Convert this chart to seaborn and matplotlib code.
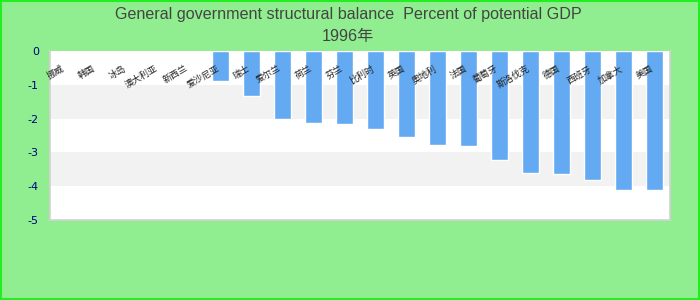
import numpy as np
import pandas as pd
import matplotlib
matplotlib.use("Agg")
import matplotlib.pyplot as plt
from matplotlib.transforms import ScaledTranslation
from matplotlib.patches import Rectangle
import seaborn as sns

# ---- data ----
countries = ["挪威", "韩国", "冰岛", "澳大利亚", "新西兰",
             "爱沙尼亚", "瑞士", "爱尔兰", "荷兰", "芬兰",
             "比利时", "英国", "奥地利", "法国", "葡萄牙",
             "斯洛伐克", "德国", "西班牙", "加拿大", "美国"]
values = [np.nan, np.nan, np.nan, np.nan, np.nan,
          -0.9, -1.32, -2.01, -2.13, -2.16,
          -2.31, -2.54, -2.79, -2.81, -3.23,
          -3.61, -3.64, -3.83, -4.1, -4.1]
yticks = [0, -1, -2, -3, -4, -5]
ytick_labels = ["0", "-1", "-2", "-3", "-4", "-5"]
title_line1 = "General government structural balance  Percent of potential GDP"
title_line2 = "1996年"

df = pd.DataFrame({"country": countries, "value": values})

sns.set_style("white")
plt.rcParams["font.family"] = ["Liberation Sans", "Noto Sans CJK SC", "DejaVu Sans"]

W, H = 700, 300
fig = plt.figure(figsize=(W / 100, H / 100), dpi=100)
fig.patch.set_facecolor("#90ee90")
fig.patches.append(Rectangle((0.001, 0.002), 0.997, 0.995, transform=fig.transFigure,
                             fill=False, edgecolor="#22ee22", linewidth=1.5))

left, right, top, bottom = 50, 670, 51, 220
ax = fig.add_axes([left / W, 1 - bottom / H, (right - left) / W, (bottom - top) / H])
ax.set_facecolor("white")

# alternating bands
ax.axhspan(-2, -1, color="#f2f2f2", zorder=0, lw=0)
ax.axhspan(-4, -3, color="#f2f2f2", zorder=0, lw=0)

sns.barplot(data=df, x="country", y="value", order=countries, color="#63aaf2",
            saturation=1, width=0.55, ax=ax, zorder=2, errorbar=None)

ax.set_ylim(-5, 0)
ax.set_xlim(-0.5, len(countries) - 0.5)
ax.set_yticks(yticks)
ax.set_yticklabels(ytick_labels, family="DejaVu Sans", fontsize=8, color="#000080")
ax.tick_params(axis="y", length=0, pad=8)
ax.set_xticks([])
ax.set_xlabel("")
ax.set_ylabel("")

for s in ["left", "right", "bottom"]:
    ax.spines[s].set_visible(True)
    ax.spines[s].set_color("#d4d0d4")
    ax.spines[s].set_linewidth(1.2)
ax.spines["top"].set_visible(False)

# category labels hanging below the zero line
off = ScaledTranslation(-4 / 100, -13 / 100, fig.dpi_scale_trans)
for i, name in enumerate(countries):
    ax.text(i, 0, name, transform=ax.transData + off, rotation=30,
            rotation_mode="anchor", ha="right", va="top", fontsize=6.5,
            family=["Noto Sans CJK SC", "DejaVu Sans"], color="#222222", zorder=5)

fig.text(348 / W, 1 - 14 / H, title_line1, ha="center", va="center",
         fontsize=11.6, color="#444444")
fig.text(348 / W, 1 - 36 / H, title_line2, ha="center", va="center",
         fontsize=11.6, color="#444444")

fig.savefig("out.png", dpi=100, facecolor=fig.get_facecolor())
